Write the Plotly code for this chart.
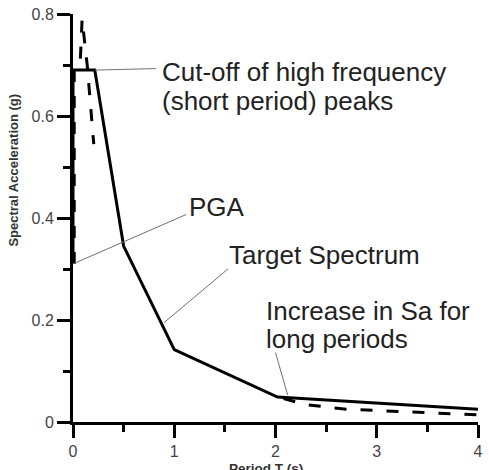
import plotly.graph_objects as go

# Target spectrum (solid)
target_T = [0.0, 0.0, 0.215, 0.5, 1.0, 2.02, 4.0]
target_Sa = [0.31, 0.69, 0.69, 0.345, 0.142, 0.049, 0.025]

# Matched spectrum (dashed); None = coincides with target in between
match_T = [0.012, 0.012, 0.07, 0.09, 0.14, 0.205, None, 2.08, 2.3, 2.7, 3.4, 4.0]
match_Sa = [0.31, 0.69, 0.70, 0.79, 0.70, 0.545, None, 0.046, 0.034, 0.025, 0.019, 0.014]

x_ticks = [0, 1, 2, 3, 4]
y_ticks = [0, 0.2, 0.4, 0.6, 0.8]

W, H = 489, 470
ml, mr, mt, mb = 73, 6, 11, 48

fig = go.Figure()
fig.add_trace(go.Scatter(x=target_T, y=target_Sa, mode="lines",
                         line=dict(color="black", width=3), showlegend=False))
fig.add_trace(go.Scatter(x=match_T, y=match_Sa, mode="lines", connectgaps=False,
                         line=dict(color="black", width=3, dash="12px,14px"),
                         showlegend=False))

# leader lines: (point on curve) -> (near label)
leaders = [
    ((0.215, 0.69), (0.82, 0.693)),
    ((0.0, 0.31), (1.12, 0.407)),
    ((0.90, 0.195), (1.53, 0.30)),
    ((2.12, 0.053), (2.0, 0.136)),
]
for (x0, y0), (x1, y1) in leaders:
    fig.add_shape(type="line", x0=x0, y0=y0, x1=x1, y1=y1, xref="x", yref="y",
                  line=dict(color="#707070", width=1))

FONT = "Liberation Sans"
font_main = dict(family=FONT, size=26, color="#222222")

def px2T(px):
    return (px - ml) / 102.5

def py2S(py):
    return (422 - py) / 513.75

texts = [
    ("Cut-off of high frequency", 161, 69),
    ("(short period) peaks", 161, 99),
    ("PGA", 188, 205),
    ("Target Spectrum", 229, 254),
    ("Increase in Sa for", 266, 310),
    ("long periods", 266, 338),
]
for t, px, py in texts:
    fig.add_annotation(x=px2T(px), y=py2S(py), xref="x", yref="y", text=t,
                       showarrow=False, xanchor="left", yanchor="middle",
                       font=font_main)

# axis titles
fig.add_annotation(x=(13 - ml) / 410, y=(422 - 168) / 411, xref="paper", yref="paper",
                   text="<b>Spectral Acceleration (g)</b>", textangle=-90,
                   showarrow=False, xanchor="center", yanchor="middle",
                   font=dict(family=FONT, size=13, color="#333333"))
fig.add_annotation(x=(268 - ml) / 410, y=(422 - 469) / 411, xref="paper", yref="paper",
                   text="<b>Period T (s)</b>", showarrow=False,
                   xanchor="center", yanchor="middle",
                   font=dict(family=FONT, size=13.5, color="#333333"))

axis_font = dict(family=FONT, size=16, color="#444444")
fig.update_xaxes(range=[0, 4], tickvals=x_ticks, showgrid=False, zeroline=False, showline=True,
                 linecolor="black", linewidth=3, ticks="outside", ticklen=13, tickwidth=2.5,
                 tickcolor="black", tickfont=axis_font,
                 minor=dict(ticks="outside", dtick=0.5, tick0=0, ticklen=7, tickwidth=2.5,
                            tickcolor="black", showgrid=False))
fig.update_yaxes(range=[0, 0.8], tickvals=y_ticks, showgrid=False, zeroline=False, showline=True,
                 linecolor="black", linewidth=3, ticks="outside", ticklen=13, tickwidth=2.5,
                 tickcolor="black", tickfont=axis_font,
                 minor=dict(ticks="outside", dtick=0.1, tick0=0, ticklen=7, tickwidth=2.5,
                            tickcolor="black", showgrid=False))
fig.update_layout(width=W, height=H, margin=dict(l=ml, r=mr, t=mt, b=mb),
                  plot_bgcolor="white", paper_bgcolor="white", showlegend=False)
fig.write_html("out.html")
